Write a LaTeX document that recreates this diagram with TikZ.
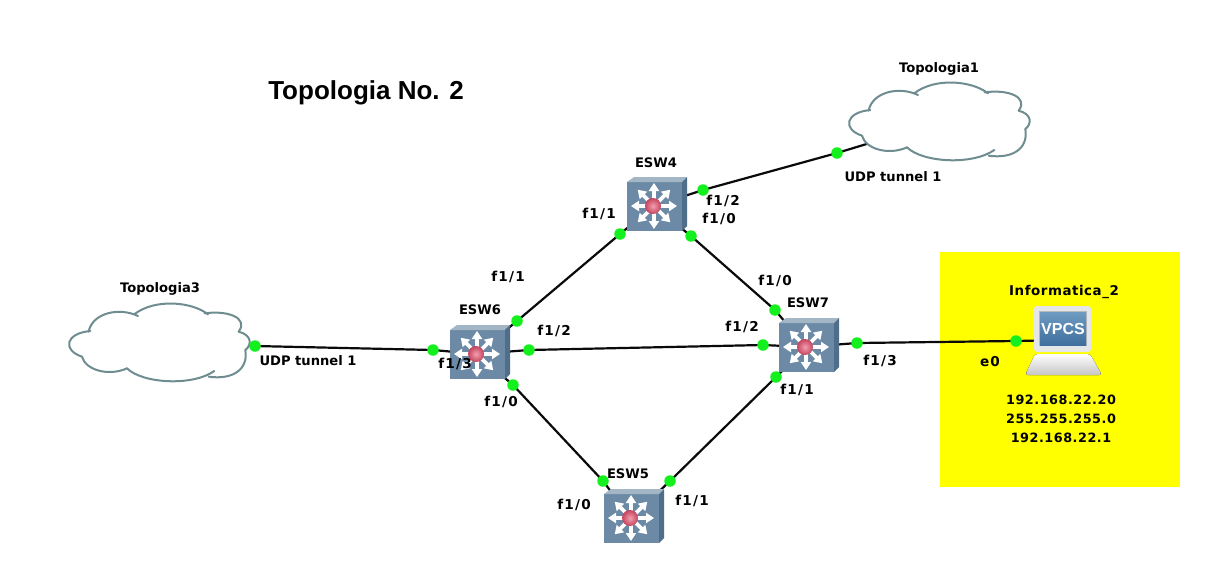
\documentclass[tikz,border=0pt]{standalone}
\usepackage{fontspec}
\setmainfont{DejaVu Sans}
\newfontfamily\arialf{Liberation Sans}
\newfontfamily\widef[LetterSpace=9]{DejaVu Sans}
\newfontfamily\midf[LetterSpace=4]{DejaVu Sans}
\usetikzlibrary{arrows.meta,calc}
\pgfdeclarelayer{bg}
\pgfdeclarelayer{links}
\pgfsetlayers{bg,links,main}
\definecolor{linkc}{HTML}{0A0A0A}
\definecolor{portc}{HTML}{14F01E}
\definecolor{cloudc}{HTML}{6F8C90}
\definecolor{swfront}{HTML}{6C8AA6}
\definecolor{swtop}{HTML}{A3B6C6}
\definecolor{swside}{HTML}{4F6E8A}
\definecolor{ballc}{HTML}{E8506E}
\definecolor{scrtop}{HTML}{6E9BC0}
\definecolor{scrbot}{HTML}{3F6F9E}
\definecolor{bezel}{HTML}{E4E6E8}
\definecolor{boxy}{HTML}{FFFF00}
\tikzset{
  lbl/.style={font=\bfseries\fontsize{13.1}{15}\selectfont,inner sep=0pt,text=black},
  portlbl/.style={font=\widef\bfseries\fontsize{13.6}{15}\selectfont,inner sep=0pt,text=black},
  pclbl/.style={font=\midf\bfseries\fontsize{13.4}{15}\selectfont,inner sep=0pt,text=black},
  iplbl/.style={font=\midf\bfseries\fontsize{12.8}{15}\selectfont,inner sep=0pt,text=black},
  port/.style={circle,fill=portc,draw=none,minimum size=11.5pt,inner sep=0pt},
  hub/.style={draw=none,inner sep=0pt,minimum width=60pt,minimum height=54pt},
  link/.style={draw=linkc,line width=2.2pt},
  cloudedge/.style={draw=cloudc,line width=2pt,line cap=round},
}
\newcommand{\switchicon}[3]{%
  \node[hub] (#1) at (#2,#3) {};
  \begin{scope}[shift={(#2,#3)}]
    \fill[swfront] (-27,-24) rectangle (28,25);
    \fill[swtop] (-27,-24) -- (-20,-29) -- (33,-29) -- (28,-24) -- cycle;
    \fill[swside] (28,-24) -- (33,-29) -- (33,20) -- (28,25) -- cycle;
    \foreach \a in {0,45,...,315}{
      \draw[white,line width=3.6pt,-{Triangle[width=10pt,length=8pt]}] (0,0) -- (\a:23);
    }
    \shade[inner color=ballc!55!white,outer color=ballc!85!black] (-1,0) circle (8);
  \end{scope}}
\newcommand{\cloudicon}[3]{%
  \node[draw=none,inner sep=0pt,minimum width=170pt,minimum height=70pt] (#1) at (#2,#3) {};
  \begin{scope}[shift={(#2,#3)},x=0.3333pt,y=-0.3333pt,shift={(-321,-219)}]
    \path[fill=white] (110,185) .. controls (120,130) and (200,110) .. (255,135)
      .. controls (310,85) and (420,95) .. (465,130)
      .. controls (530,120) and (590,145) .. (560,185)
      .. controls (600,195) and (600,225) .. (580,240)
      .. controls (590,300) and (540,330) .. (470,320)
      .. controls (400,350) and (270,340) .. (225,295)
      .. controls (170,320) and (100,300) .. (90,260)
      .. controls (30,240) and (40,190) .. (115,183) -- cycle;
    \draw[cloudedge] (110,185) .. controls (120,130) and (200,110) .. (258,138);
    \draw[cloudedge] (248,132) .. controls (310,85) and (420,95) .. (468,133);
    \draw[cloudedge] (458,130) .. controls (530,120) and (590,145) .. (560,185);
    \draw[cloudedge] (560,185) .. controls (600,195) and (600,225) .. (580,240);
    \draw[cloudedge] (580,240) .. controls (590,300) and (540,330) .. (470,320);
    \draw[cloudedge] (487,303) .. controls (420,350) and (270,340) .. (225,295);
    \draw[cloudedge] (225,295) .. controls (170,320) and (100,300) .. (90,260);
    \draw[cloudedge] (90,260) .. controls (30,240) and (40,190) .. (115,183);
  \end{scope}}
\begin{document}
\begin{tikzpicture}[x=1pt,y=-1pt]
\useasboundingbox (0,0) rectangle (1221,563);
\begin{pgfonlayer}{bg}
  \fill[white] (0,0) rectangle (1221,563);
  \fill[boxy] (940,252) rectangle (1180,487);
\end{pgfonlayer}

% devices
\switchicon{esw4}{654}{206}
\switchicon{esw6}{477}{354}
\switchicon{esw7}{806}{347}
\switchicon{esw5}{631}{518}
\cloudicon{cloudA}{939}{122}
\cloudicon{cloudB}{159}{343}

% VPCS
\node[draw=none,inner sep=0pt,minimum width=76pt,minimum height=70pt] (pc) at (1063,340) {};
\begin{scope}[shift={(1063,340)}]
  \fill[top color=white,bottom color=gray!45,rounded corners=3pt] (-28,14) -- (27,14) -- (39,35) -- (-38,35) -- cycle;
  \fill[bezel,rounded corners=3pt] (-29,-34) rectangle (28,12);
  \fill[gray!55] (-24,-29) rectangle (24,6);
  \shade[top color=scrtop,bottom color=scrbot] (-23,-28) rectangle (23,5);
  \node[font=\arialf\bfseries\fontsize{16}{18}\selectfont,text=white,inner sep=0pt] (vpcstext) at (0,-11) {VPCS};
\end{scope}

% ports
\node[port] (p4r) at (703,190) {};
\node[port] (p1a) at (837,153) {};
\node[port] (p4l) at (620,234) {};
\node[port] (p6t) at (517,321) {};
\node[port] (p4b) at (691,236) {};
\node[port] (p7t) at (775,310) {};
\node[port] (p6r) at (529,350) {};
\node[port] (p7l) at (763,345) {};
\node[port] (p6b) at (513,385) {};
\node[port] (p5l) at (603,481) {};
\node[port] (p5r) at (670,481) {};
\node[port] (p7b) at (776,377) {};
\node[port] (p7r) at (857,343) {};
\node[port] (ppc) at (1016,341) {};
\node[port] (p3a) at (255,346) {};
\node[port] (p6l) at (433,350) {};

% links
\begin{pgfonlayer}{links}
  \draw[link] (esw4.center) -- (p4r.center) -- (p1a.center) -- (cloudA.center);
  \draw[link] (esw4.center) -- (p4l.center) -- (p6t.center) -- (esw6.center);
  \draw[link] (esw4.center) -- (p4b.center) -- (p7t.center) -- (esw7.center);
  \draw[link] (esw6.center) -- (p6r.center) -- (p7l.center) -- (esw7.center);
  \draw[link] (esw6.center) -- (p6b.center) -- (p5l.center) -- (esw5.center);
  \draw[link] (esw5.center) -- (p5r.center) -- (p7b.center) -- (esw7.center);
  \draw[link] (esw7.center) -- (p7r.center) -- (ppc.center) -- (pc.center);
  \draw[link] (cloudB.center) -- (p3a.center) -- (p6l.center) -- (esw6.center);
\end{pgfonlayer}

% labels
\node[font=\arialf\bfseries\fontsize{26}{28}\selectfont,inner sep=0pt] (title) at (366,92.5) {Topologia No. 2};
\node[lbl] (n1) at (939,68.5) {Topologia1};
\node[lbl] (n2) at (160,288.5) {Topologia3};
\node[lbl] (n3) at (656,162.5) {ESW4};
\node[lbl] (n4) at (480,309.5) {ESW6};
\node[lbl] (n5) at (808,302.5) {ESW7};
\node[lbl] (n6) at (628,473.5) {ESW5};
\node[pclbl] (n7) at (1064,291.5) {Informatica\_2};
\node[portlbl] (l1) at (723,201) {f1/2};
\node[portlbl] (l2) at (719,219) {f1/0};
\node[portlbl] (l3) at (599,214) {f1/1};
\node[lbl] (l4) at (893,176.5) {UDP tunnel 1};
\node[portlbl] (l5) at (508,277) {f1/1};
\node[portlbl] (l6) at (554,331) {f1/2};
\node[portlbl] (l7) at (775,281) {f1/0};
\node[portlbl] (l8) at (742,327) {f1/2};
\node[portlbl] (l9) at (880,361) {f1/3};
\node[portlbl] (l10) at (990,362) {e0};
\node[lbl] (l11) at (308,360.5) {UDP tunnel 1};
\node[portlbl] (l12) at (455,364) {f1/3};
\node[portlbl] (l13) at (501,402) {f1/0};
\node[portlbl] (l14) at (797,390) {f1/1};
\node[portlbl] (l15) at (574,505) {f1/0};
\node[portlbl] (l16) at (692,501) {f1/1};
\node[iplbl] (ip1) at (1061,400) {192.168.22.20};
\node[iplbl] (ip2) at (1061,419) {255.255.255.0};
\node[iplbl] (ip3) at (1061,438) {192.168.22.1};
\end{tikzpicture}
\end{document}
